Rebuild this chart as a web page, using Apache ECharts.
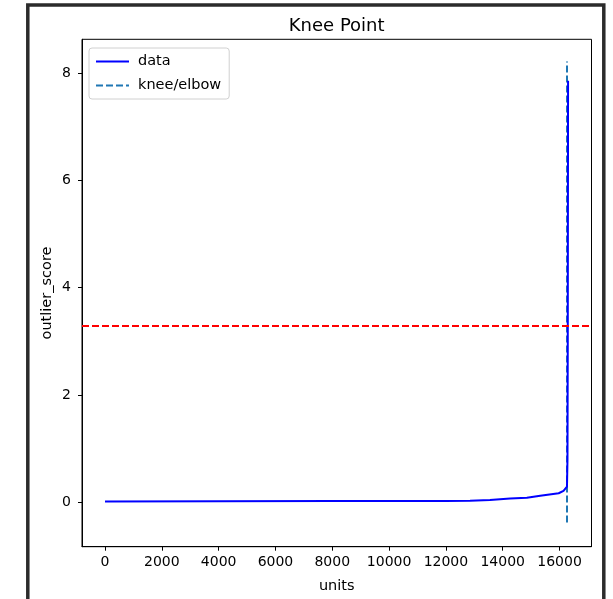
<!DOCTYPE html>
<html>
<head>
<meta charset="utf-8">
<title>Knee Point</title>
<script src="https://cdn.jsdelivr.net/npm/echarts@6/dist/echarts.min.js"></script>
<style>
  html, body { margin: 0; padding: 0; background: #fff; }
  #chart { width: 613px; height: 599px; }
</style>
</head>
<body>
<div id="chart"></div>
<script>
// sorted outlier scores
const unitsX = [0, 4000, 8000, 12000, 12850, 13550, 14260, 14850, 15320, 15970, 16140, 16262, 16280, 16290, 16300];
const scoreY = [0.01, 0.015, 0.02, 0.02, 0.025, 0.04, 0.065, 0.08, 0.12, 0.165, 0.21, 0.29, 0.8, 3.0, 7.86];

// knee position and the vertical extent of its dashed marker
const kneeX = 16263;
const kneeSpan = [-0.38, 8.22];
const threshold = 3.285;

const xTicks = [0, 2000, 4000, 6000, 8000, 10000, 12000, 14000, 16000];
const yTicks = [0, 2, 4, 6, 8];

const font = 'DejaVu Sans';

const chart = echarts.init(document.getElementById('chart'));

const option = {
  animation: false,
  backgroundColor: '#fff',
  title: {
    text: 'Knee Point',
    left: 336.7,
    top: 17,
    padding: 0,
    textAlign: 'center',
    textStyle: { fontFamily: font, fontSize: 18, fontWeight: 'normal', color: '#000' }
  },
  legend: {
    left: 89,
    top: 48,
    orient: 'vertical',
    padding: [6, 8, 6, 6],
    itemWidth: 33,
    itemHeight: 14,
    itemGap: 9,
    backgroundColor: 'rgba(255,255,255,0.8)',
    borderColor: '#d0d0d0',
    borderWidth: 1,
    borderRadius: 3,
    itemStyle: { opacity: 0 },
    textStyle: { fontFamily: font, fontSize: 14.5, color: '#000', padding: [0, 0, 0, 4] },
    data: ['data', 'knee/elbow']
  },
  grid: {
    left: 82,
    top: 39.3,
    right: 21.5,
    bottom: 52.3,
    show: true,
    borderColor: '#000',
    borderWidth: 1,
    backgroundColor: 'transparent'
  },
  xAxis: {
    type: 'value',
    min: -810,
    max: 17125,
    name: 'units',
    nameLocation: 'middle',
    nameGap: 32,
    nameMoveOverlap: false,
    nameTextStyle: { fontFamily: font, fontSize: 14.5, color: '#000' },
    axisLine: { show: true, onZero: false, lineStyle: { color: '#000', width: 1 } },
    axisTick: { show: true, length: 4, customValues: xTicks, lineStyle: { color: '#000' } },
    axisLabel: {
      customValues: xTicks, margin: 9, fontFamily: font, fontSize: 14, color: '#000',
      formatter: v => String(v)
    },
    splitLine: { show: false }
  },
  yAxis: {
    type: 'value',
    min: -0.832,
    max: 8.634,
    name: 'outlier_score',
    nameLocation: 'middle',
    nameGap: 27,
    nameMoveOverlap: false,
    nameRotate: 90,
    nameTextStyle: { fontFamily: font, fontSize: 14.5, color: '#000' },
    axisLine: { show: true, onZero: false, lineStyle: { color: '#000', width: 1 } },
    axisTick: { show: true, length: 4, customValues: yTicks, lineStyle: { color: '#000' } },
    axisLabel: {
      customValues: yTicks, margin: 11, fontFamily: font, fontSize: 14, color: '#000',
      formatter: v => String(v)
    },
    splitLine: { show: false }
  },
  graphic: [{
    type: 'rect',
    shape: { x: 27.8, y: 5, width: 576, height: 700 },
    style: { fill: 'none', stroke: '#2b2b2b', lineWidth: 3.5 },
    silent: true,
    z: 100
  }],
  series: [
    {
      name: 'data',
      type: 'line',
      data: unitsX.map((x, i) => [x, scoreY[i]]),
      showSymbol: false,
      symbol: 'none',
      lineStyle: { color: '#0000ff', width: 2 },
      itemStyle: { color: '#0000ff' },
      z: 3,
      markLine: {
        silent: true,
        symbol: 'none',
        label: { show: false },
        lineStyle: { color: '#ff0000', type: [7, 3], width: 2 },
        data: [{ yAxis: threshold }]
      }
    },
    {
      name: 'knee/elbow',
      type: 'line',
      data: kneeSpan.map(y => [kneeX, y]),
      showSymbol: false,
      symbol: 'none',
      lineStyle: { color: '#1f77b4', type: [7, 3], width: 2 },
      itemStyle: { color: '#1f77b4' },
      z: 2
    }
  ]
};

chart.setOption(option);
</script>
</body>
</html>
